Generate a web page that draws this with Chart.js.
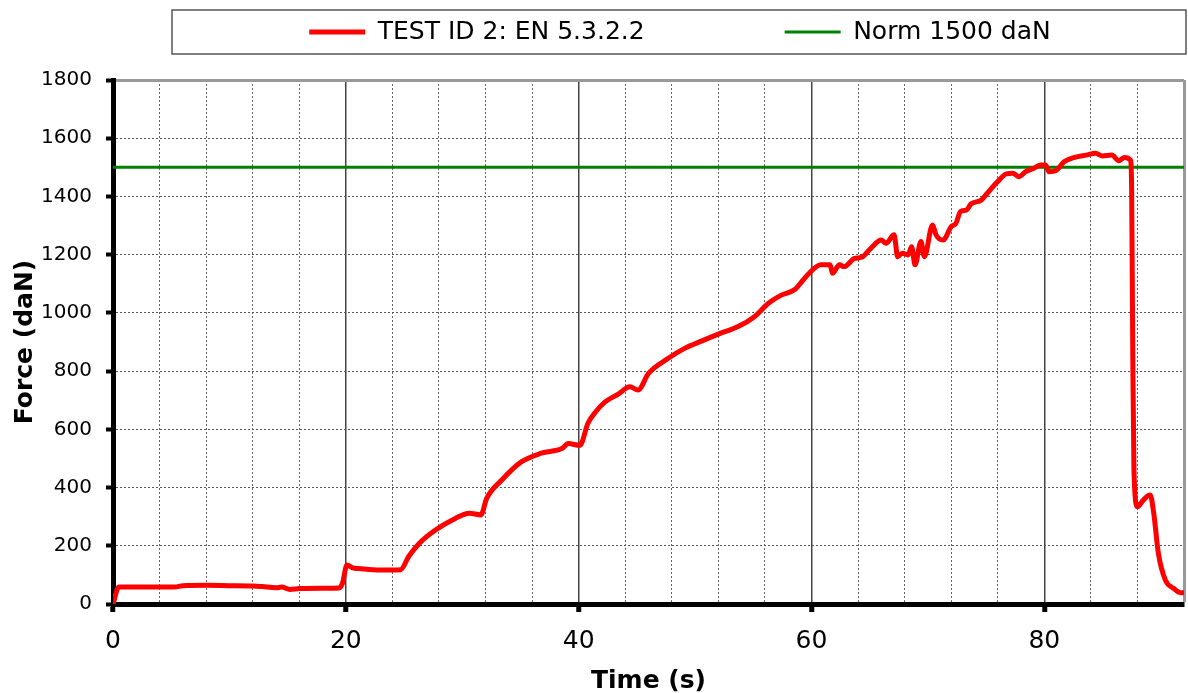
<!DOCTYPE html>
<html>
<head>
<meta charset="utf-8">
<script src="https://cdn.jsdelivr.net/npm/chart.js@4/dist/chart.umd.min.js"></script>
<style>
  html, body { margin: 0; padding: 0; background: #fff; }
  #wrap { width: 1188px; height: 693px; }
</style>
</head>
<body>
<div id="wrap"><canvas id="force_chart"></canvas></div>
<script>
// test curve
var timeS = [0, 0.5, 2, 5.3, 6, 8, 10, 12, 12.8, 14, 14.5, 15.2, 16, 18, 19.4, 19.7,
  20.1, 20.6, 21.1, 22.9, 24.7, 25.4, 26.3, 27.7, 29.4, 30.6, 31.6, 32.1, 33.4,
  35.1, 36.8, 38.6, 39.1, 40.1, 40.8, 41.5, 42.3, 43.4, 44.4, 45.1, 46.0, 47.7,
  49.1, 50.6, 52.0, 53.7, 55.1, 56.3, 57.4, 58.6, 59.1, 59.8, 60.8, 61.6, 61.8,
  62.4, 62.8, 63.7, 64.3, 65.1, 66.0, 66.4, 67.1, 67.4, 67.8, 68.3, 68.6, 68.9,
  69.4, 69.7, 70.4, 70.7, 71.3, 72.0, 72.4, 72.8, 73.3, 73.7, 74.6, 75.1, 76.0,
  76.7, 77.3, 77.8, 78.4, 79.1, 79.7, 80.1, 80.4, 81.0, 81.7, 82.6, 83.6, 84.4,
  85.0, 85.8, 86.4, 86.9, 87.4, 87.5, 87.6, 87.7, 88.0, 88.5, 89.1, 89.4, 89.8,
  90.4, 91.1, 91.7, 92];
var forceDaN = [0, 58, 58, 58, 63, 64, 63, 62, 60, 56, 58, 50, 53, 54, 55, 70,
  134, 124, 122, 117, 118, 163, 208, 254, 294, 312, 306, 363, 426,
  489, 518, 535, 551, 545, 621, 662, 695, 721, 746, 735, 792, 844,
  878, 904, 927, 953, 987, 1033, 1061, 1081, 1104, 1136, 1165, 1165, 1136,
  1165, 1159, 1187, 1191, 1222, 1250, 1239, 1268, 1193, 1205, 1199, 1227, 1165,
  1245, 1193, 1302, 1268, 1250, 1296, 1307, 1348, 1353, 1374, 1388, 1411, 1451,
  1477, 1480, 1468, 1485, 1497, 1508, 1508, 1485, 1489, 1519, 1534, 1542, 1548,
  1539, 1542, 1523, 1534, 1525, 1434, 861, 460, 334, 357, 374, 312, 174,
  82, 54, 39, 39];
var normForce = 1500;
var normSpan = [0, 92];
var xLabelTicks = [0, 20, 40, 60, 80];

var testLabel = "TEST ID 2: EN 5.3.2.2";
var normLabel = "Norm 1500 daN";

var legendGap = 140;

function isMajorX(ctx) {
  return ctx.tick && xLabelTicks.indexOf(ctx.tick.value) >= 0;
}

// legend sits in a framed box, shifted right like the original
var legendFrame = {
  id: 'legendFrame',
  beforeInit: function (chart) {
    var lg = chart.legend;
    var fit = lg.fit;
    lg.fit = function () {
      fit.bind(lg)();
      this.height = 80;
    };
  },
  afterLayout: function (chart) {
    var lg = chart.legend;
    lg.left = 160;
    lg.right = 1200;
    lg.width = lg.right - lg.left;
    lg.top = 32 - legendGap - 12.5;
  },
  afterDraw: function (chart) {
    var c = chart.ctx;
    c.save();
    c.strokeStyle = '#555';
    c.lineWidth = 1.5;
    c.strokeRect(172, 10, chart.width - 2 - 172, 44);
    c.restore();
  }
};

var ctx = document.getElementById("force_chart");
var myChart = new Chart(ctx, {
  type: 'line',
  plugins: [legendFrame],
  data: {
    datasets: [{
      label: testLabel,
      data: timeS.map(function (t, i) { return {x: t, y: forceDaN[i]}; }),
      borderColor: '#ff0000',
      backgroundColor: '#ff0000',
      borderWidth: 5,
      borderCapStyle: 'round',
      borderJoinStyle: 'round',
      pointRadius: 0,
      cubicInterpolationMode: 'monotone'
    }, {
      label: normLabel,
      data: normSpan.map(function (t) { return {x: t, y: normForce}; }),
      borderColor: '#008000',
      backgroundColor: '#008000',
      borderWidth: 3,
      pointRadius: 0
    }]
  },
  options: {
    responsive: true,
    maintainAspectRatio: false,
    animation: false,
    layout: { padding: 0 },
    plugins: {
      tooltip: { enabled: false },
      legend: {
        position: 'top',
        labels: {
          usePointStyle: true,
          pointStyle: 'line',
          pointStyleWidth: 56,
          padding: legendGap,
          color: '#000',
          font: { family: 'DejaVu Sans', size: 25 }
        }
      }
    },
    scales: {
      x: {
        type: 'linear',
        min: 0,
        max: 92,
        afterFit: function (s) {
          s.height = 89;
          s.paddingLeft = 0;
          s.paddingRight = 4;
        },
        ticks: {
          stepSize: 4,
          autoSkip: false,
          maxRotation: 0,
          padding: 14,
          color: '#000',
          font: { family: 'DejaVu Sans', size: 25 },
          callback: function (v) { return xLabelTicks.indexOf(v) >= 0 ? String(v) : ''; }
        },
        grid: {
          color: function (c) {
            if (!c.tick) return '#666';
            if (c.tick.value === 0) return 'rgba(0,0,0,0)';
            if (c.tick.value === 92) return '#999';
            return isMajorX(c) ? '#444' : '#666';
          },
          lineWidth: function (c) {
            if (c.tick && c.tick.value === 92) return 3;
            return isMajorX(c) ? 1.5 : 1;
          },
          tickColor: function (c) { return isMajorX(c) ? '#000' : 'rgba(0,0,0,0)'; },
          tickWidth: 5,
          tickLength: 8
        },
        border: {
          color: '#000',
          width: 5,
          dash: function (c) {
            if (!c.tick || isMajorX(c) || c.tick.value === 92) return [];
            return [2, 2];
          }
        },
        title: {
          display: true,
          text: 'Time (s)',
          color: '#000',
          font: { family: 'DejaVu Sans', size: 25, weight: 'bold' },
          padding: { top: 0, bottom: -3 }
        }
      },
      y: {
        min: 0,
        max: 1800,
        afterFit: function (s) { s.width = 113; },
        ticks: {
          stepSize: 200,
          padding: 14,
          color: '#000',
          font: { family: 'DejaVu Sans', size: 20 },
          callback: function (v) { return String(v); }
        },
        grid: {
          color: function (c) {
            if (!c.tick) return '#666';
            if (c.tick.value === 0) return 'rgba(0,0,0,0)';
            if (c.tick.value === 1800) return '#999';
            return '#555';
          },
          lineWidth: function (c) { return c.tick && c.tick.value === 1800 ? 3 : 1; },
          tickColor: '#000',
          tickWidth: 4,
          tickLength: 7
        },
        border: {
          color: '#000',
          width: 5,
          dash: function (c) {
            if (!c.tick || c.tick.value === 1800) return [];
            return [2, 2];
          }
        },
        title: {
          display: true,
          text: 'Force (daN)',
          color: '#000',
          font: { family: 'DejaVu Sans', size: 25, weight: 'bold' },
          padding: { top: 10, bottom: 0 }
        }
      }
    }
  }
});
</script>
</body>
</html>
